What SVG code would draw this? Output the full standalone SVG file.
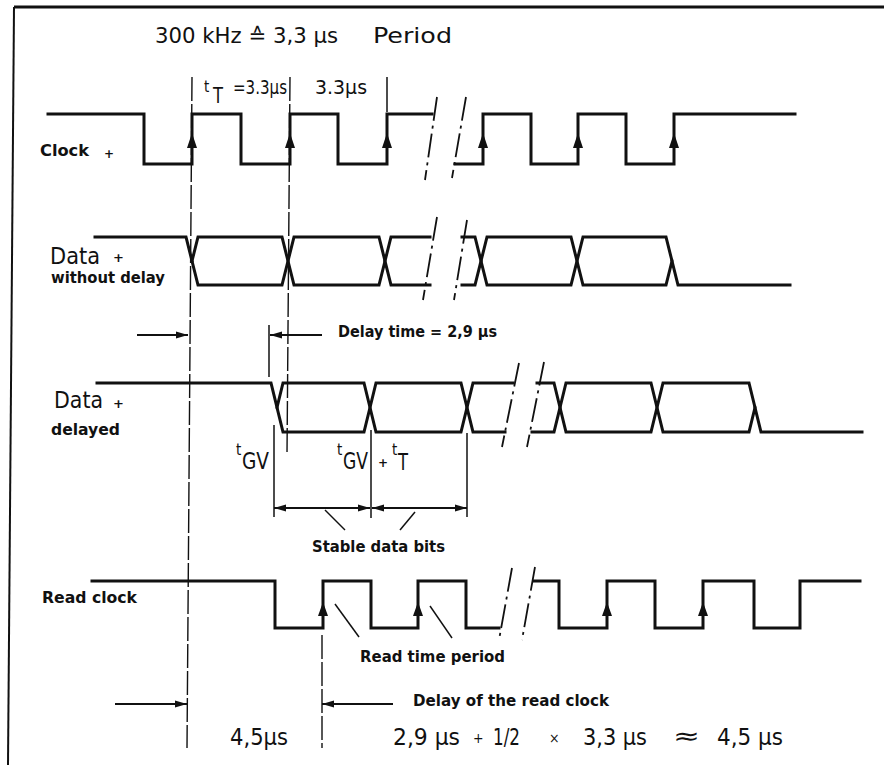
<svg xmlns="http://www.w3.org/2000/svg" width="884" height="765" viewBox="0 0 884 765">
<defs>
<style>
.w{fill:none;stroke:#111;stroke-width:3;stroke-linejoin:miter;stroke-linecap:square}
.brk{fill:none;stroke:#111;stroke-width:1.8;stroke-dasharray:24 5 3 5}
.vd{fill:none;stroke:#111;stroke-width:1.4;stroke-dasharray:24 3}
.vs{fill:none;stroke:#111;stroke-width:1.5}
.dim{fill:none;stroke:#111;stroke-width:2}
.ld{fill:none;stroke:#111;stroke-width:1.5}
.ed{fill:#111}
.din{font-family:"DejaVu Sans Condensed","DejaVu Sans",sans-serif;fill:#111}
.lab{font-family:"DejaVu Sans",sans-serif;font-weight:bold;fill:#111}
</style>
<marker id="ah" viewBox="0 0 12 8" refX="12" refY="4" markerWidth="13" markerHeight="8" markerUnits="userSpaceOnUse" orient="auto-start-reverse">
<path d="M0,0.5 L12,4 L0,7.5 Z" fill="#111"/>
</marker>
</defs>
<rect width="884" height="765" fill="#fff"/>

<g id="frame">
<line x1="14" y1="7" x2="884" y2="7" stroke="#111" stroke-width="3"/>
<line x1="14" y1="7" x2="8" y2="765" stroke="#111" stroke-width="2"/>
</g>

<g id="clock">
<path class="w" d="M48,114 H144 V164 H192 V114 H241 V164 H290 V114 H338 V164 H387 V114 H432"/>
<path class="w" d="M455,164 H483 V114 H531 V164 H578 V114 H626 V164 H674 V114 H795"/>
<g class="ed">
<polygon points="192,133 187,148 197,148"/>
<polygon points="290,133 285,148 295,148"/>
<polygon points="387,133 382,148 392,148"/>
<polygon points="483,133 478,148 488,148"/>
<polygon points="578,133 573,148 583,148"/>
<polygon points="674,133 669,148 679,148"/>
</g>
<line class="brk" x1="437" y1="97" x2="425" y2="180"/>
<line class="brk" x1="466" y1="97" x2="452" y2="178"/>
<text class="lab" x="40" y="156" font-size="15" textLength="49" lengthAdjust="spacingAndGlyphs">Clock</text>
<text class="lab" x="104" y="158" font-size="12">+</text>
</g>

<g id="data-without-delay">
<path class="w" d="M95,237 H186 L192,261"/>
<path class="w" d="M192,261 L198,237 H282 L288,261 L282,285 H198 Z"/>
<path class="w" d="M288,261 L294,237 H379 L385,261 L379,285 H294 Z"/>
<path class="w" d="M385,261 L391,237 H430 M385,261 L391,285 H430"/>
<path class="w" d="M462,237 H475 L481,261 M462,285 H475 L481,261"/>
<path class="w" d="M481,261 L487,237 H571 L577,261 L571,285 H487 Z"/>
<path class="w" d="M577,261 L583,237 H666 L672,261 L666,285 H583 Z"/>
<path class="w" d="M672,261 L678,285 H790"/>
<line class="brk" x1="437" y1="217" x2="423" y2="300"/>
<line class="brk" x1="467" y1="220" x2="454" y2="300"/>
<text class="din" x="50" y="264" font-size="23" textLength="50" lengthAdjust="spacingAndGlyphs">Data</text>
<text class="lab" x="113" y="262" font-size="13">+</text>
<text class="lab" x="51" y="283" font-size="16" textLength="114" lengthAdjust="spacingAndGlyphs">without delay</text>
</g>

<g id="data-delayed">
<path class="w" d="M97,383 H271 L277,407.5"/>
<path class="w" d="M277,407.5 L283,383 H364 L370,407.5 L364,432 H283 Z"/>
<path class="w" d="M370,407.5 L376,383 H461 L467,407.5 L461,432 H376 Z"/>
<path class="w" d="M467,407.5 L473,383 H513 M467,407.5 L473,432 H505"/>
<path class="w" d="M537,383 H554 L560,407.5 M532,432 H554 L560,407.5"/>
<path class="w" d="M560,407.5 L566,383 H651 L657,407.5 L651,432 H566 Z"/>
<path class="w" d="M657,407.5 L663,383 H749 L755,407.5 L749,432 H663 Z"/>
<path class="w" d="M755,407.5 L761,432 H862"/>
<line class="brk" x1="519" y1="363" x2="502" y2="447"/>
<line class="brk" x1="544" y1="362" x2="527" y2="447"/>
<text class="din" x="54" y="408" font-size="23" textLength="49" lengthAdjust="spacingAndGlyphs">Data</text>
<text class="lab" x="113" y="408" font-size="13">+</text>
<text class="lab" x="51" y="435" font-size="16" textLength="69" lengthAdjust="spacingAndGlyphs">delayed</text>
</g>

<g id="read-clock">
<path class="w" d="M92,581 H275 V628 H323 V581 H371 V628 H418 V581 H466 V628 H499"/>
<path class="w" d="M534,581 H559 V628 H607 V581 H655 V628 H703 V581 H754 V628 H800 V581 H860"/>
<g class="ed">
<polygon points="323,602 318,616 328,616"/>
<polygon points="418,602 413,616 423,616"/>
<polygon points="607,602 602,616 612,616"/>
<polygon points="703,602 698,616 708,616"/>
</g>
<line class="brk" x1="512" y1="568" x2="499" y2="640"/>
<line class="brk" x1="535" y1="567" x2="522" y2="640"/>
<text class="lab" x="42" y="603" font-size="16" textLength="95" lengthAdjust="spacingAndGlyphs">Read clock</text>
</g>

<g id="connectors">
<line class="vd" x1="192" y1="77" x2="187" y2="748"/>
<line class="vd" x1="290" y1="77" x2="287" y2="455"/>
<line class="vs" x1="387" y1="77" x2="387" y2="112"/>
<line class="vs" x1="269" y1="325" x2="269" y2="377"/>
<line class="vs" x1="274" y1="425" x2="274" y2="517"/>
<line class="vs" x1="371" y1="430" x2="371" y2="518"/>
<line class="vs" x1="467" y1="433" x2="467" y2="517"/>
<line class="vd" x1="322" y1="635" x2="322" y2="748"/>
<line class="dim" x1="137" y1="335" x2="188" y2="335" marker-end="url(#ah)"/>
<line class="dim" x1="322" y1="335" x2="270" y2="335" marker-end="url(#ah)"/>
<line class="dim" x1="274" y1="508" x2="370" y2="508" marker-start="url(#ah)" marker-end="url(#ah)"/>
<line class="dim" x1="372" y1="508" x2="467" y2="508" marker-start="url(#ah)" marker-end="url(#ah)"/>
<line class="dim" x1="115" y1="704" x2="187" y2="704" marker-end="url(#ah)"/>
<line class="dim" x1="393" y1="704" x2="322" y2="704" marker-end="url(#ah)"/>
<line class="ld" x1="325" y1="510" x2="345" y2="530"/>
<line class="ld" x1="415" y1="512" x2="400" y2="530"/>
<line class="ld" x1="335" y1="604" x2="359" y2="637"/>
<line class="ld" x1="430" y1="606" x2="452" y2="638"/>
</g>

<g id="labels">
<text class="din" x="155" y="43" font-size="21" textLength="183" lengthAdjust="spacingAndGlyphs">300 kHz ≙ 3,3 µs</text>
<text class="din" x="373" y="43" font-size="21" textLength="79" lengthAdjust="spacingAndGlyphs">Period</text>
<text class="din" x="204" y="92" font-size="15">t</text>
<text class="din" x="213" y="103" font-size="22" textLength="10" lengthAdjust="spacingAndGlyphs">T</text>
<text class="din" x="233" y="94" font-size="19" textLength="54" lengthAdjust="spacingAndGlyphs">=3.3µs</text>
<text class="din" x="315" y="94" font-size="19" textLength="52" lengthAdjust="spacingAndGlyphs">3.3µs</text>
<text class="lab" x="338" y="337" font-size="15" textLength="159" lengthAdjust="spacingAndGlyphs">Delay time = 2,9 µs</text>
<text class="din" x="236" y="455" font-size="15">t</text>
<text class="din" x="242" y="469" font-size="23" textLength="27" lengthAdjust="spacingAndGlyphs">GV</text>
<text class="din" x="337" y="455" font-size="15">t</text>
<text class="din" x="343" y="469" font-size="23" textLength="25" lengthAdjust="spacingAndGlyphs">GV</text>
<text class="lab" x="378" y="467" font-size="12">+</text>
<text class="din" x="392" y="455" font-size="15">t</text>
<text class="din" x="398" y="470" font-size="23" textLength="10" lengthAdjust="spacingAndGlyphs">T</text>
<text class="lab" x="312" y="552" font-size="16" textLength="133" lengthAdjust="spacingAndGlyphs">Stable data bits</text>
<text class="lab" x="360" y="662" font-size="16" textLength="145" lengthAdjust="spacingAndGlyphs">Read time period</text>
<text class="lab" x="413" y="706" font-size="15" textLength="196" lengthAdjust="spacingAndGlyphs">Delay of the read clock</text>
<text class="din" x="230" y="745" font-size="23" textLength="58" lengthAdjust="spacingAndGlyphs">4,5µs</text>
<text class="din" x="393" y="745" font-size="23" textLength="67" lengthAdjust="spacingAndGlyphs">2,9 µs</text>
<text class="din" x="473" y="743" font-size="14">+</text>
<text class="din" x="493" y="745" font-size="23" textLength="27" lengthAdjust="spacingAndGlyphs">1/2</text>
<text class="din" x="549" y="743" font-size="14">×</text>
<text class="din" x="583" y="745" font-size="23" textLength="64" lengthAdjust="spacingAndGlyphs">3,3 µs</text>
<text class="din" x="673" y="744" font-size="23" textLength="27" lengthAdjust="spacingAndGlyphs">≈</text>
<text class="din" x="717" y="745" font-size="23" textLength="66" lengthAdjust="spacingAndGlyphs">4,5 µs</text>
</g>
</svg>
